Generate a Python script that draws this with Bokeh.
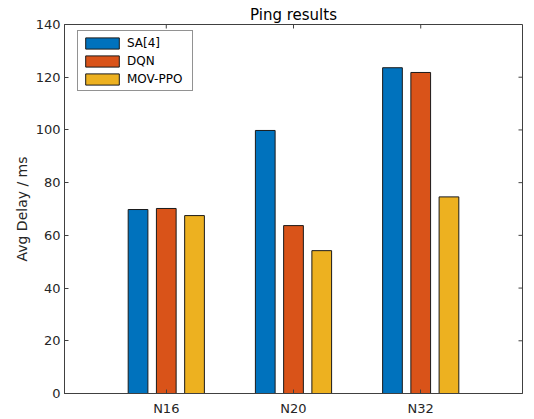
import numpy as np
from bokeh.plotting import figure
from bokeh.models import Range1d, FixedTicker, Legend, LegendItem
from bokeh.embed import file_html
from bokeh.resources import INLINE

categories = ["N16", "N20", "N32"]
series_names = ["SA[4]", "DQN", "MOV-PPO"]
sa4 = [69.8, 99.8, 123.6]
dqn = [70.2, 63.7, 121.8]
movppo = [67.5, 54.2, 74.6]
y_ticks = [0, 20, 40, 60, 80, 100, 120, 140]

colors = ["#0072BD", "#D95319", "#EDB120"]
FONT = "DejaVu Sans"
TXT = "#262626"
AXC = "#404040"
XMIN, XMAX, YMIN, YMAX = 0.2, 3.8, 0, 140

p = figure(frame_width=458, frame_height=369, width=534, height=419,
           output_backend="svg", toolbar_location=None,
           x_range=Range1d(XMIN, XMAX), y_range=Range1d(YMIN, YMAX),
           min_border_left=64, min_border_right=12, min_border_top=24, min_border_bottom=26)
p.background_fill_color = "white"
p.border_fill_color = "white"
p.outline_line_color = AXC
p.outline_line_width = 1
p.grid.visible = False

x = np.arange(1, len(categories) + 1)
offsets = [-0.222, 0.0, 0.222]
renderers = []
for vals, off, col in zip([sa4, dqn, movppo], offsets, colors):
    r = p.vbar(x=x + off, top=vals, width=0.155, bottom=0, fill_color=col,
               line_color="#1a1a1a", line_width=1)
    renderers.append(r)

# mirrored inward ticks on the right and top edges
p.ray(x=[XMAX] * len(y_ticks), y=y_ticks, length=4, length_units="screen",
      angle=np.pi, line_color=AXC, line_width=1)
p.ray(x=list(x), y=[YMAX] * len(x), length=4, length_units="screen",
      angle=-np.pi / 2, line_color=AXC, line_width=1)

p.title.text = "Ping results"
p.title.align = "center"
p.title.text_font = FONT
p.title.text_font_size = "15px"
p.title.text_font_style = "normal"
p.title.text_color = "#000000"
p.title.offset = 0
p.title.standoff = 2

def style_axis(ax):
    ax.axis_line_color = AXC
    ax.major_tick_line_color = AXC
    ax.major_tick_in = 4
    ax.major_tick_out = 0
    ax.minor_tick_line_color = None
    ax.major_label_text_font = FONT
    ax.major_label_text_font_size = "13px"
    ax.major_label_text_color = TXT

xa = p.xaxis[0]
xa.ticker = FixedTicker(ticks=list(x))
xa.major_label_overrides = {int(i): c for i, c in zip(x, categories)}
style_axis(xa)
xa.major_label_standoff = 7

ya = p.yaxis[0]
ya.ticker = FixedTicker(ticks=y_ticks)
style_axis(ya)
ya.major_label_standoff = 4
ya.axis_label = "Avg Delay / ms"
ya.axis_label_text_font = FONT
ya.axis_label_text_font_size = "14px"
ya.axis_label_text_font_style = "normal"
ya.axis_label_text_color = TXT
ya.axis_label_standoff = 3

legend = Legend(items=[LegendItem(label=n, renderers=[r]) for n, r in zip(series_names, renderers)],
                location=(13, 302))
legend.label_text_font = FONT
legend.label_text_font_size = "12px"
legend.label_text_color = "#000000"
legend.glyph_width = 42
legend.glyph_height = 14
legend.label_height = 17
legend.label_width = 62
legend.label_standoff = 4
legend.spacing = 1
legend.padding = 3
legend.margin = 0
legend.border_line_color = "#262626"
legend.border_line_width = 1
legend.background_fill_color = "white"
legend.background_fill_alpha = 1
p.add_layout(legend, "center")

open("out.html", "w").write(file_html(p, INLINE))
